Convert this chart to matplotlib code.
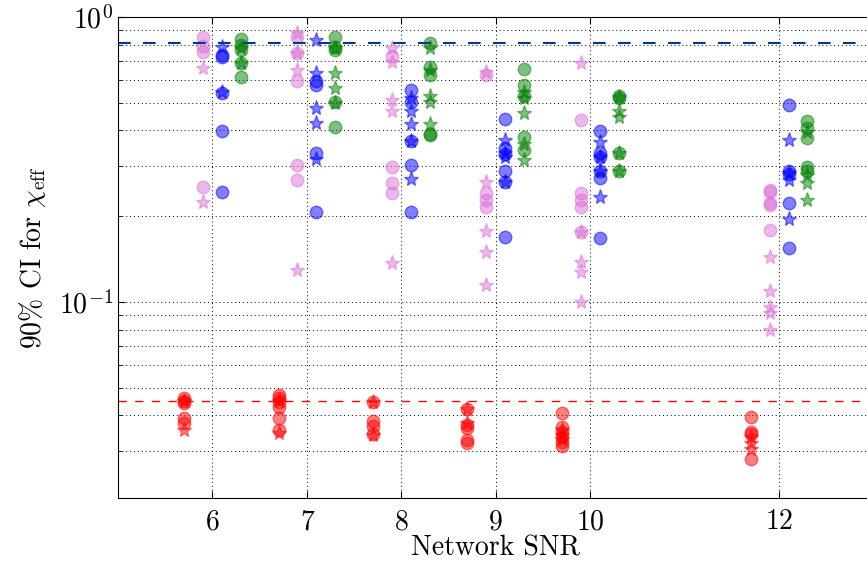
import matplotlib
matplotlib.use('Agg')
import matplotlib.pyplot as plt
from matplotlib.ticker import NullFormatter

plt.rcParams['font.family'] = 'serif'
plt.rcParams['font.serif'] = ['cmr10']
plt.rcParams['mathtext.fontset'] = 'cm'
plt.rcParams['axes.formatter.use_mathtext'] = True
plt.rcParams['axes.unicode_minus'] = False

snrs = [6, 7, 8, 9, 10, 12]

# 90% CI widths, one list per SNR
red_circ = [[0.0461, 0.0450, 0.0443, 0.0391, 0.0377],
            [0.0470, 0.0461, 0.0445, 0.0429, 0.0391, 0.0356],
            [0.0445, 0.0381, 0.0366, 0.0345],
            [0.0421, 0.0371, 0.0360, 0.0328, 0.0319],
            [0.0407, 0.0365, 0.0350, 0.0335, 0.0322, 0.0311],
            [0.0396, 0.0350, 0.0345, 0.0281]]
red_star = [[0.0450, 0.0356],
            [0.0450, 0.0348],
            [0.0445, 0.0342],
            [0.0421, 0.0377],
            [0.0356, 0.0340, 0.0330],
            [0.0335, 0.0320, 0.0305]]

pink_circ = [[0.853, 0.79, 0.756, 0.253],
             [0.853, 0.746, 0.598, 0.302, 0.268],
             [0.730, 0.298, 0.261, 0.241],
             [0.626, 0.241, 0.228, 0.216],
             [0.435, 0.241, 0.228, 0.216, 0.176],
             [0.247, 0.244, 0.222, 0.219, 0.179]]
pink_star = [[0.661, 0.225],
             [0.879, 0.746, 0.652, 0.129],
             [0.777, 0.697, 0.511, 0.469, 0.137],
             [0.643, 0.264, 0.177, 0.150, 0.115],
             [0.688, 0.176, 0.138, 0.127, 0.100],
             [0.144, 0.109, 0.096, 0.0917, 0.0797]]

blue_circ = [[0.735, 0.724, 0.542, 0.398, 0.244],
             [0.598, 0.577, 0.334, 0.206],
             [0.554, 0.505, 0.368, 0.302, 0.206],
             [0.438, 0.347, 0.330, 0.289, 0.264, 0.169],
             [0.398, 0.333, 0.323, 0.289, 0.272, 0.167],
             [0.491, 0.287, 0.281, 0.222, 0.155]]
blue_star = [[0.787, 0.547],
             [0.828, 0.634, 0.479, 0.426, 0.318],
             [0.520, 0.469, 0.421, 0.368, 0.271],
             [0.370, 0.333, 0.323, 0.264],
             [0.365, 0.323, 0.289, 0.234],
             [0.370, 0.284, 0.267, 0.195]]

green_circ = [[0.84, 0.80, 0.766, 0.691, 0.618],
              [0.853, 0.787, 0.766, 0.505, 0.412],
              [0.813, 0.669, 0.626, 0.388, 0.385],
              [0.656, 0.576, 0.528, 0.380, 0.341],
              [0.528, 0.520, 0.333, 0.289],
              [0.430, 0.408, 0.375, 0.298, 0.287]]
green_star = [[0.777, 0.691],
              [0.777, 0.638, 0.562, 0.499],
              [0.777, 0.652, 0.528, 0.505, 0.421],
              [0.547, 0.520, 0.462, 0.358, 0.315],
              [0.524, 0.469, 0.444, 0.333, 0.289],
              [0.396, 0.279, 0.261, 0.228]]

prior_red = 0.045
prior_other = 0.81

fig = plt.figure(figsize=(8.67, 5.69), dpi=100)
ax = fig.add_axes([0.1361, 0.1248, 0.8714, 0.8453])

groups = [(red_circ, red_star, 'r', -0.3),
          (pink_circ, pink_star, 'orchid', -0.1),
          (blue_circ, blue_star, 'b', 0.1),
          (green_circ, green_star, 'g', 0.3)]

for circ, star, col, off in groups:
    for s, cv, sv in zip(snrs, circ, star):
        ax.plot([s + off] * len(cv), cv, 'o', color=col, alpha=0.5,
                ms=9, mec=col, mew=1)
        ax.plot([s + off] * len(sv), sv, '*', color=col, alpha=0.5,
                ms=11, mec=col, mew=1)

ax.axhline(prior_red, color='r', ls='--', dashes=(6, 6), lw=1)
ax.axhline(prior_other, color='g', ls='--', dashes=(6, 6), lw=1.5)
ax.axhline(prior_other, color='b', ls='--', dashes=(6, 6), lw=1.5, alpha=0.55)

ax.set_yscale('log')
ax.set_ylim(0.0205, 1)
ax.set_xlim(5, 13)
ax.set_xticks(snrs)
ax.set_xticklabels([str(s) for s in snrs])
ax.yaxis.set_minor_formatter(NullFormatter())

ax.grid(True, which='major', ls=(0, (1, 3)), color='k', lw=0.7)
ax.grid(True, which='minor', axis='y', ls=(0, (1, 3)), color='k', lw=0.7)
ax.tick_params(which='both', direction='in', top=True, right=True, labelsize=20)
ax.tick_params(which='major', length=5)
ax.tick_params(which='minor', length=3)
ax.tick_params(axis='x', pad=8)

ax.set_xlabel('Network SNR', fontsize=20, labelpad=0)
ax.set_ylabel(r'90% CI for $\chi_{\rm eff}$', fontsize=20, labelpad=8)

fig.savefig('out.png', dpi=100)
